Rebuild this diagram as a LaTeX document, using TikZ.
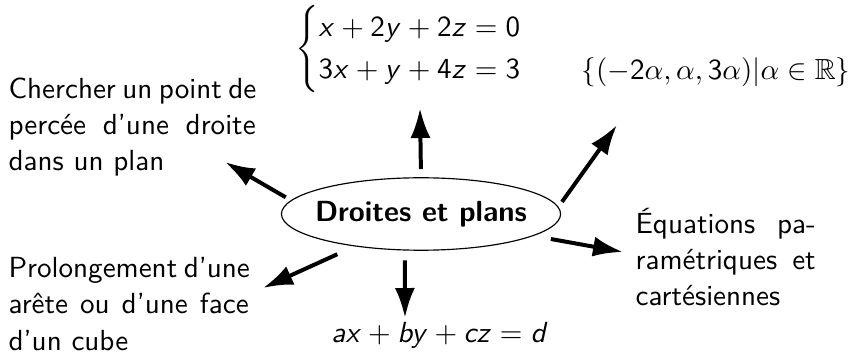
\documentclass[tikz,border=0pt]{standalone}
\usepackage{amsmath,amssymb}
\renewcommand{\familydefault}{\sfdefault}
% lettres et chiffres des formules en sans serif
\DeclareSymbolFont{sflettres}{OT1}{cmss}{m}{sl}
\DeclareSymbolFont{sfchiffres}{OT1}{cmss}{m}{n}
\DeclareMathSymbol{a}{\mathalpha}{sflettres}{`a}
\DeclareMathSymbol{b}{\mathalpha}{sflettres}{`b}
\DeclareMathSymbol{c}{\mathalpha}{sflettres}{`c}
\DeclareMathSymbol{d}{\mathalpha}{sflettres}{`d}
\DeclareMathSymbol{x}{\mathalpha}{sflettres}{`x}
\DeclareMathSymbol{y}{\mathalpha}{sflettres}{`y}
\DeclareMathSymbol{z}{\mathalpha}{sflettres}{`z}
\DeclareMathSymbol{0}{\mathalpha}{sfchiffres}{`0}
\DeclareMathSymbol{2}{\mathalpha}{sfchiffres}{`2}
\DeclareMathSymbol{3}{\mathalpha}{sfchiffres}{`3}
\DeclareMathSymbol{4}{\mathalpha}{sfchiffres}{`4}
\usetikzlibrary{arrows.meta, shapes.geometric}
\tikzset{
  branche/.style={-{Latex[length=10.3pt,width=6.9pt]}, line width=1.37pt},
  bloc/.style={text width=#1, align=justify, inner sep=0pt, anchor=west,
    font=\fontsize{10}{12.5}\selectfont},
}

\begin{document}
\begin{tikzpicture}[x=0.3436pt,y=-0.3436pt]
\useasboundingbox (0,0) rectangle (852,364);
% centre
\node[draw, ellipse, inner xsep=-2.5pt, inner ysep=3.8pt, text height=7.5pt, text depth=2.5pt, line width=0.4pt, font=\bfseries] (dp) at (421,214) {Droites et plans};
% branches
\node (sys) at (424,49) {$\begin{cases} x+2y+2z=0\\ 3x+y+4z=3\end{cases}$};
\node (sol) at (716,72) {$\{(-2\alpha,\alpha,3\alpha)|\alpha\in\mathbb{R}\}$};
\node[bloc=84.9pt] (percee) at (8,127) {\hyphenpenalty=10000\relax Chercher~un~point~de\linebreak percée~d'une~droite\linebreak dans~un~plan};
\node[bloc=82.5pt] (cube) at (8,304) {\hyphenpenalty=10000\relax Prolongement~d'une\linebreak arête~ou~d'une~face\linebreak d'un~cube};
\node[bloc=61.9pt] (eqs) at (635,257) {\hyphenpenalty=10000\relax Équations~pa-\linebreak ramétriques~et\linebreak cartésiennes};
\node (cart) at (440,335) {$ax+by+cz=d$};
% pointes
\coordinate (pSys) at (420,108);
\coordinate (pSol) at (617,125);
\coordinate (pPercee) at (225,162);
\coordinate (pCube) at (263,288);
\coordinate (pCart) at (405,318);
\coordinate (pEqs) at (623,252);
\draw[branche, shorten <=2.75pt] (dp.90) -- (pSys);
\draw[branche, shorten <=2.06pt] (dp.3.9) -- (pSol);
\draw[branche, shorten <=2.06pt] (dp.174.7) -- (pPercee);
\draw[branche, shorten <=6.5pt] (dp.206.2) -- (pCube);
\draw[branche, shorten <=3.4pt] (dp.246.7) -- (pCart);
\draw[branche, shorten <=6pt] (dp.349.5) -- (pEqs);
\end{tikzpicture}
\end{document}
